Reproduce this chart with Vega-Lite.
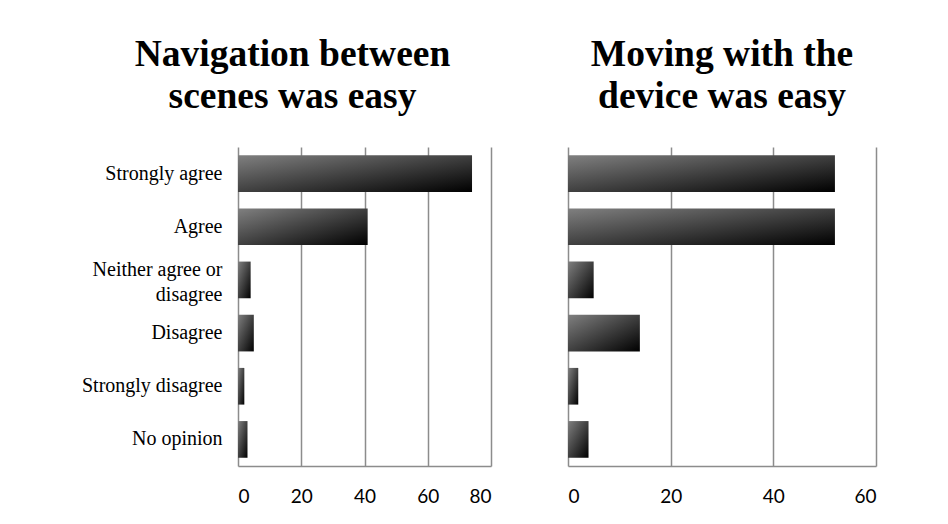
{
  "$schema": "https://vega.github.io/schema/vega-lite/v6.json",
  "background": "white",
  "padding": {"left": 81, "top": 35, "right": 5, "bottom": 5},
  "bounds": "flush",
  "spacing": 77,
  "data": {
    "values": [
      {"question": "nav", "response": "Strongly agree", "count": 74},
      {"question": "nav", "response": "Agree", "count": 41},
      {"question": "nav", "response": "Neither agree or disagree", "count": 4},
      {"question": "nav", "response": "Disagree", "count": 5},
      {"question": "nav", "response": "Strongly disagree", "count": 2},
      {"question": "nav", "response": "No opinion", "count": 3},
      {"question": "move", "response": "Strongly agree", "count": 52},
      {"question": "move", "response": "Agree", "count": 52},
      {"question": "move", "response": "Neither agree or disagree", "count": 5},
      {"question": "move", "response": "Disagree", "count": 14},
      {"question": "move", "response": "Strongly disagree", "count": 2},
      {"question": "move", "response": "No opinion", "count": 4}
    ]
  },
  "config": {
    "view": {"stroke": null},
    "title": {"font": "Liberation Serif", "fontSize": 37.5, "fontWeight": "bold", "color": "black", "lineHeight": 42, "anchor": "middle", "frame": "group", "offset": 32},
    "axis": {"gridColor": "#8c8c8c", "gridWidth": 1.5, "domainColor": "#8c8c8c", "domainWidth": 1.5, "ticks": false, "labelColor": "black"}
  },
  "hconcat": [
    {
      "width": 253,
      "height": 319,
      "title": {"text": ["Navigation between", "scenes was easy"], "dx": -72},
      "transform": [{"filter": "datum.question == 'nav'"}],
      "mark": {"type": "bar", "fill": {"gradient": "linear", "x1": 0, "y1": 0, "x2": 1, "y2": 1, "stops": [{"offset": 0, "color": "#808080"}, {"offset": 1, "color": "#000000"}]}},
      "encoding": {
        "y": {"field": "response", "type": "nominal", "sort": null,
              "scale": {"paddingInner": 0.31, "paddingOuter": 0.155},
              "axis": {"title": null, "domain": false, "labelFont": "Liberation Serif", "labelFontSize": 20, "labelPadding": 16, "labelLineHeight": 25,
                       "labelOffset": {"condition": {"test": "datum.value == 'Neither agree or disagree'", "value": -10}, "value": 0},
                       "labelExpr": "datum.value == 'Neither agree or disagree' ? ['Neither agree or', 'disagree'] : datum.value"}},
        "x": {"field": "count", "type": "quantitative",
              "scale": {"domain": [0, 80], "nice": false},
              "axis": {"title": null, "values": [0, 20, 40, 60, 80], "labelFont": "Lato", "labelFontSize": 19, "labelPadding": 21, "grid": true}}
      }
    },
    {
      "width": 308,
      "height": 319,
      "title": {"text": ["Moving with the", "device was easy"]},
      "transform": [{"filter": "datum.question == 'move'"}],
      "mark": {"type": "bar", "fill": {"gradient": "linear", "x1": 0, "y1": 0, "x2": 1, "y2": 1, "stops": [{"offset": 0, "color": "#808080"}, {"offset": 1, "color": "#000000"}]}},
      "encoding": {
        "y": {"field": "response", "type": "nominal", "sort": null,
              "scale": {"paddingInner": 0.31, "paddingOuter": 0.155},
              "axis": null},
        "x": {"field": "count", "type": "quantitative",
              "scale": {"domain": [0, 60], "nice": false},
              "axis": {"title": null, "values": [0, 20, 40, 60], "labelFont": "Lato", "labelFontSize": 19, "labelPadding": 21, "grid": true}}
      }
    }
  ]
}
